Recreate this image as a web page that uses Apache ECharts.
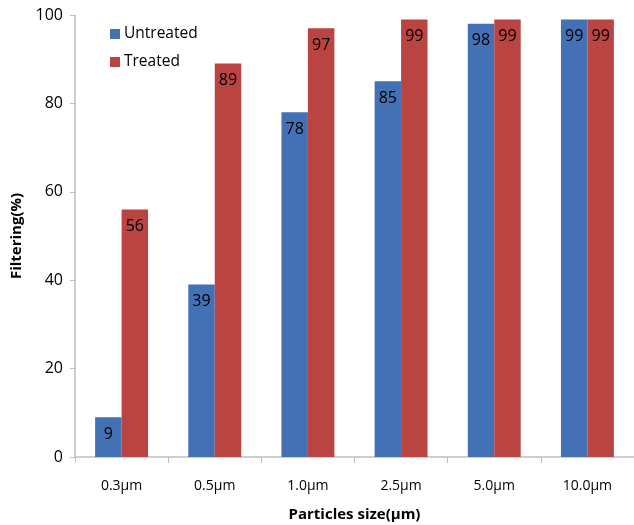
<!DOCTYPE html>
<html>
<head>
<meta charset="utf-8">
<script src="https://cdn.jsdelivr.net/npm/echarts@6/dist/echarts.min.js"></script>
<style>
  html, body { margin: 0; padding: 0; background: #fff; }
  #chart { width: 634px; height: 525px; }
</style>
</head>
<body>
<div id="chart"></div>
<script>
// Particle size classes and filtering efficiency (%)
const categories = ['0.3μm', '0.5μm', '1.0μm', '2.5μm', '5.0μm', '10.0μm'];
const untreated = [9, 39, 78, 85, 98, 99];
const treated = [56, 89, 97, 99, 99, 99];
const yTicks = { min: 0, max: 100, interval: 20 };

const FONT = '"Open Sans", "Noto Sans", sans-serif';
const chart = echarts.init(document.getElementById('chart'));

const labelStyle = {
  show: true,
  position: 'insideTop',
  distance: 9,
  color: '#000',
  fontFamily: FONT,
  fontSize: 16
};

chart.setOption({
  animation: false,
  textStyle: { fontFamily: FONT },
  grid: { left: 75, right: 0, top: 15, bottom: 68, outerBoundsMode: 'none', containLabel: false },
  legend: {
    orient: 'vertical',
    left: 105,
    top: 21,
    itemWidth: 10,
    itemHeight: 10,
    itemGap: 12,
    icon: 'rect',
    textStyle: { fontSize: 15.5, color: '#000', fontFamily: FONT, padding: [0, 0, 0, -1] },
    data: ['Untreated', 'Treated']
  },
  xAxis: {
    type: 'category',
    data: categories,
    name: 'Particles size(μm)',
    nameLocation: 'middle',
    nameGap: 50,
    nameTextStyle: { fontWeight: 'bold', fontSize: 15, color: '#000', fontFamily: FONT },
    axisLine: { lineStyle: { color: '#bfbfbf', width: 1.5 } },
    axisTick: { show: true, length: 6, inside: false, lineStyle: { color: '#bfbfbf' } },
    axisLabel: { color: '#000', fontSize: 14, margin: 22, fontFamily: FONT }
  },
  yAxis: {
    type: 'value',
    min: yTicks.min,
    max: yTicks.max,
    interval: yTicks.interval,
    name: 'Filtering(%)',
    nameLocation: 'middle',
    nameGap: 48,
    nameRotate: 90,
    nameTextStyle: { fontWeight: 'bold', fontSize: 15, color: '#000', fontFamily: FONT },
    axisLine: { show: true, lineStyle: { color: '#bfbfbf', width: 1.5 } },
    axisTick: { show: true, length: 5, lineStyle: { color: '#bfbfbf' } },
    axisLabel: { color: '#000', fontSize: 16, margin: 12, fontFamily: FONT },
    splitLine: { show: false }
  },
  series: [
    {
      name: 'Untreated',
      type: 'bar',
      data: untreated,
      barWidth: '28.4%',
      barGap: '0%',
      itemStyle: { color: '#4470B5' },
      label: labelStyle
    },
    {
      name: 'Treated',
      type: 'bar',
      data: treated,
      barWidth: '28.4%',
      barGap: '0%',
      itemStyle: { color: '#B94442' },
      label: labelStyle
    }
  ]
});
</script>
</body>
</html>
